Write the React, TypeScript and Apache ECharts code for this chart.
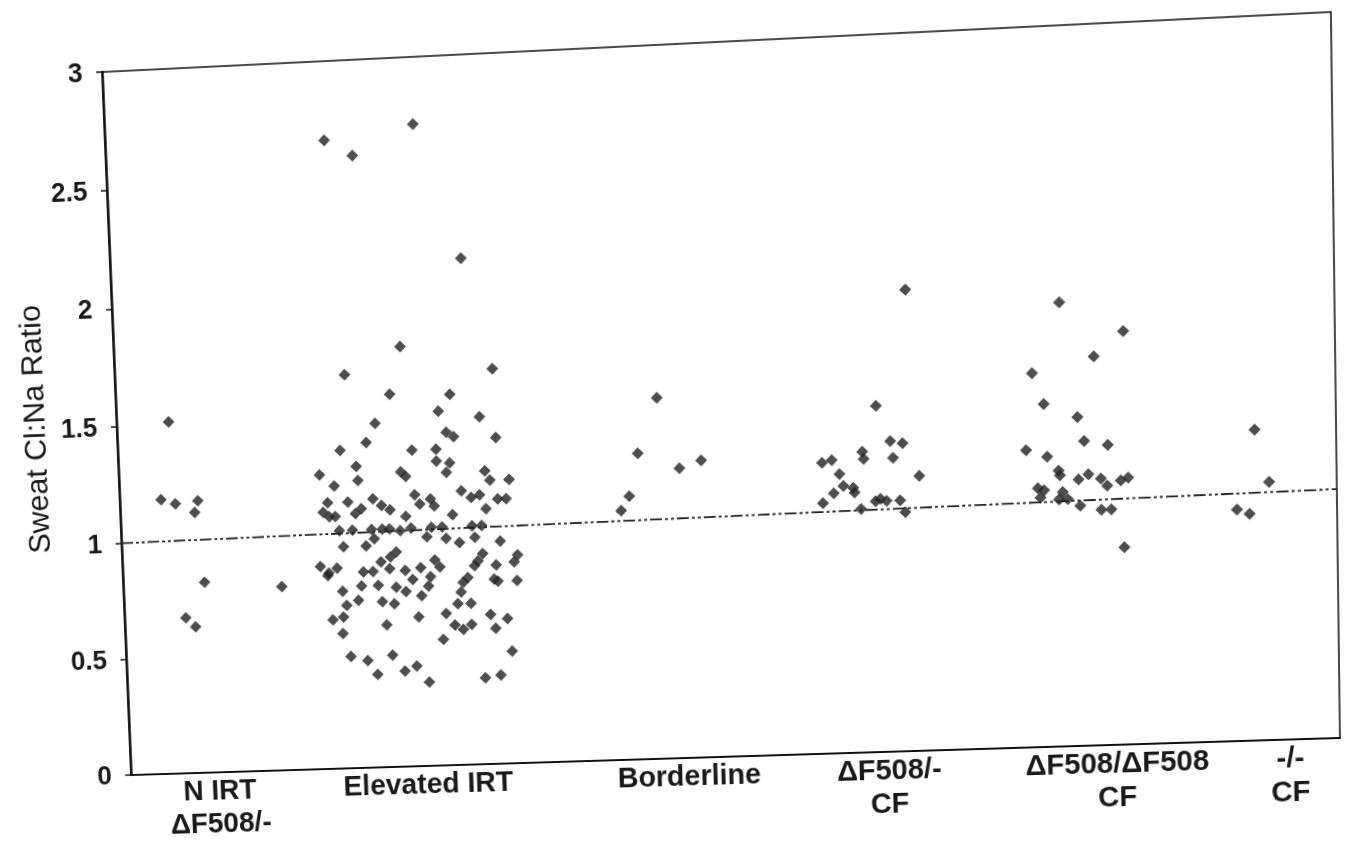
import React, { useEffect, useRef } from "react";
import * as echarts from "echarts";

// ---- data (x = position along the category axis 0..1000, y = Sweat Cl:Na ratio) ----
const categoryLabels = ["N IRT\nΔF508/-", "Elevated IRT", "Borderline", "ΔF508/-\nCF", "ΔF508/ΔF508\nCF", "-/-\nCF"];
const categoryAt = [75, 251, 469, 634, 820, 960];
const yTicks = [0, 0.5, 1, 1.5, 2, 2.5, 3];

const nIrt = [
  [44, 1.51], [35, 1.18], [47, 1.16], [66, 1.17], [63, 1.12], [69, 0.82], [52, 0.67], [60, 0.63], [134, 0.79],
];

const elevatedIrt = [
  [183, 2.67], [206, 2.6], [257, 2.72], [293, 2.15], [240, 1.79], [193, 1.68], [230, 1.59], [316, 1.68],
  [280, 1.58], [270, 1.51], [304, 1.48], [276, 1.42], [282, 1.4], [317, 1.39], [247, 1.35], [267, 1.35],
  [267, 1.3], [278, 1.29], [275, 1.25], [307, 1.25], [311, 1.21], [327, 1.21], [241, 1.24], [237, 1.26],
  [248, 1.16], [252, 1.12], [261, 1.14], [264, 1.11], [287, 1.17], [295, 1.14], [302, 1.15], [317, 1.13],
  [324, 1.13], [307, 1.09], [279, 1.07], [240, 1.07], [244, 1.02], [261, 1.02], [270, 1.02], [295, 1.02],
  [303, 1.02], [257, 0.98], [273, 0.97], [284, 0.95], [297, 0.97], [318, 0.95], [332, 0.89], [329, 0.86],
  [303, 0.9], [299, 0.87], [296, 0.85], [314, 0.85], [263, 0.88], [267, 0.85], [251, 0.85], [238, 0.84],
  [244, 0.8], [259, 0.81], [257, 0.77], [290, 0.8], [286, 0.78], [312, 0.79], [315, 0.78], [331, 0.78],
  [284, 0.74], [251, 0.73], [238, 0.75], [281, 0.69], [292, 0.69], [248, 0.64], [271, 0.65], [308, 0.64],
  [322, 0.62], [278, 0.6], [285, 0.58], [292, 0.6], [312, 0.58], [268, 0.54], [325, 0.48], [245, 0.43],
  [235, 0.41], [255, 0.36], [302, 0.37], [315, 0.38],
  [217, 1.47], [187, 1.36], [209, 1.39], [169, 1.26], [200, 1.29], [201, 1.23], [181, 1.21], [192, 1.14],
  [175, 1.14], [171, 1.1], [176, 1.08], [181, 1.08], [198, 1.09], [203, 1.11], [213, 1.15], [220, 1.12],
  [227, 1.1], [184, 1.02], [195, 1.02], [211, 1.02], [220, 1.02], [226, 1.02], [235, 1.01], [206, 0.95],
  [213, 0.98], [187, 0.95], [231, 0.92], [226, 0.9], [218, 0.88], [167, 0.87], [174, 0.84], [181, 0.86],
  [173, 0.83], [203, 0.84], [211, 0.84], [225, 0.85], [201, 0.78], [215, 0.78], [185, 0.76], [230, 0.77],
  [198, 0.72], [188, 0.7], [218, 0.71], [228, 0.7], [176, 0.64], [185, 0.65], [221, 0.61], [184, 0.58],
  [190, 0.48], [204, 0.46], [212, 0.4], [225, 0.48],
];

const borderline = [
  [451, 1.53], [434, 1.3], [468, 1.23], [486, 1.26], [426, 1.12], [419, 1.06],
];

const f508Single = [
  [656, 1.94], [630, 1.46], [641, 1.31], [651, 1.3], [643, 1.24], [618, 1.27], [619, 1.24], [585, 1.23],
  [593, 1.24], [599, 1.18], [664, 1.16], [602, 1.13], [610, 1.12], [611, 1.1], [594, 1.1], [585, 1.06],
  [616, 1.03], [628, 1.06], [632, 1.07], [637, 1.06], [648, 1.06], [652, 1.01],
];

const f508Double = [
  [780, 1.86], [831, 1.73], [807, 1.63], [757, 1.57], [766, 1.44], [793, 1.38], [798, 1.28], [817, 1.26],
  [751, 1.25], [768, 1.22], [777, 1.16], [778, 1.14], [793, 1.12], [801, 1.14], [811, 1.12], [816, 1.09],
  [827, 1.11], [833, 1.12], [760, 1.09], [765, 1.08], [762, 1.05], [780, 1.07], [784, 1.04], [777, 1.04],
  [794, 1.01], [811, 0.99], [819, 0.99], [829, 0.83],
];

const noneNone = [
  [935, 1.3], [946, 1.08], [920, 0.97], [930, 0.95],
];

const trendLine = [
  [0, 1.0], [1000, 1.04],
];

// ---- layout of the (scanned, slightly skewed) plot frame ----
const GRID = { left: 115, top: 45, width: 1220, height: 715 };
// page positions of the plot corners: TL, TR, BR, BL
const QUAD = [[102, 72], [1331, 12], [1340, 738], [131, 775]];

function quadTransform(): string {
  const [[x0, y0], [x1, y1], [x2, y2], [x3, y3]] = QUAD;
  const dx1 = x1 - x2, dx2 = x3 - x2, dx3 = x0 - x1 + x2 - x3;
  const dy1 = y1 - y2, dy2 = y3 - y2, dy3 = y0 - y1 + y2 - y3;
  const den = dx1 * dy2 - dx2 * dy1;
  const g = (dx3 * dy2 - dx2 * dy3) / den;
  const h = (dx1 * dy3 - dx3 * dy1) / den;
  const a = x1 - x0 + g * x1, b = x3 - x0 + h * x3, c = x0;
  const d = y1 - y0 + g * y1, e = y3 - y0 + h * y3, f = y0;
  const W = GRID.width, H = GRID.height, L = GRID.left, T = GRID.top;
  const A1 = a / W, A2 = b / H, A4 = c - (a * L) / W - (b * T) / H;
  const B1 = d / W, B2 = e / H, B4 = f - (d * L) / W - (e * T) / H;
  const D1 = g / W, D2 = h / H, D4 = 1 - (g * L) / W - (h * T) / H;
  return `matrix3d(${A1},${B1},0,${D1},${A2},${B2},0,${D2},0,0,1,0,${A4},${B4},0,${D4})`;
}

const FONT = "'Liberation Sans', Arial, sans-serif";
const DOT = "#222222";

export default function App() {
  const ref = useRef<HTMLDivElement>(null);

  useEffect(() => {
    if (!ref.current) return;
    const chart = echarts.init(ref.current, undefined, { renderer: "svg" });
    const scatter = (name: string, data: number[][]) => ({
      name,
      type: "scatter",
      data,
      symbol: "diamond",
      symbolSize: 12,
      itemStyle: { color: DOT },
      z: 3,
    });
    chart.setOption({
      animation: false,
      backgroundColor: "#ffffff",
      grid: {
        left: GRID.left,
        top: GRID.top,
        width: GRID.width,
        height: GRID.height,
        show: true,
        borderColor: "#111",
        borderWidth: 1.5,
        backgroundColor: "transparent",
      },
      xAxis: {
        type: "value",
        min: 0,
        max: 1000,
        splitLine: { show: false },
        axisTick: { show: false },
        axisLine: { show: true, lineStyle: { color: "#111", width: 2 } },
        axisLabel: {
          customValues: categoryAt,
          formatter: (v: number) => {
            const i = categoryAt.indexOf(v);
            return i >= 0 ? categoryLabels[i] : "";
          },
          fontFamily: FONT,
          fontWeight: "bold",
          fontSize: 29,
          lineHeight: 34,
          color: "#1a1a1a",
          margin: 1,
        },
      },
      yAxis: {
        type: "value",
        min: yTicks[0],
        max: yTicks[yTicks.length - 1],
        interval: 0.5,
        name: "Sweat Cl:Na Ratio",
        nameLocation: "middle",
        nameGap: 70,
        nameTextStyle: { fontFamily: FONT, fontSize: 31, color: "#1a1a1a" },
        splitLine: { show: false },
        axisLine: { show: true, lineStyle: { color: "#111", width: 2.5 } },
        axisTick: { show: true, length: 6, lineStyle: { color: "#111", width: 1.5 } },
        axisLabel: {
          fontFamily: FONT,
          fontWeight: "bold",
          fontSize: 27,
          color: "#1a1a1a",
          margin: 20,
          formatter: (v: number) => String(v),
        },
      },
      series: [
        {
          name: "Trend",
          type: "line",
          data: trendLine,
          symbol: "none",
          lineStyle: { color: "#222", width: 1.8, type: [12, 3, 3, 3, 3, 3] },
          z: 2,
        },
        scatter("N IRT ΔF508/-", nIrt),
        scatter("Elevated IRT", elevatedIrt),
        scatter("Borderline", borderline),
        scatter("ΔF508/- CF", f508Single),
        scatter("ΔF508/ΔF508 CF", f508Double),
        scatter("-/- CF", noneNone),
      ],
    });
    return () => chart.dispose();
  }, []);

  return (
    <div
      style={{
        position: "fixed",
        left: 0,
        top: 0,
        width: 1349,
        height: 842,
        overflow: "hidden",
        background: "#fff",
      }}
    >
      <div
        ref={ref}
        style={{
          position: "absolute",
          left: 0,
          top: 0,
          width: 1349,
          height: 842,
          transformOrigin: "0 0",
          transform: quadTransform(),
        }}
      />
    </div>
  );
}
